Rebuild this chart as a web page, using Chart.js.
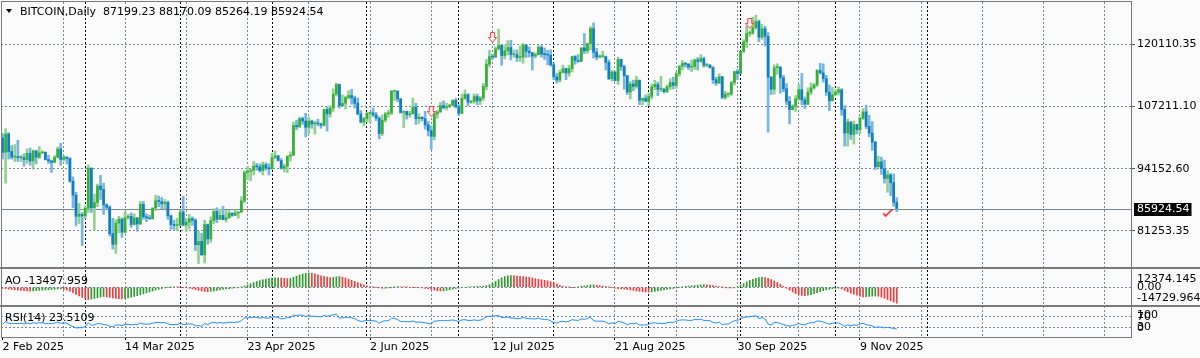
<!DOCTYPE html>
<html>
<head>
<meta charset="utf-8">
<script src="https://cdn.jsdelivr.net/npm/chart.js@4.4.1/dist/chart.umd.min.js"></script>
<style>
  html, body { margin: 0; padding: 0; background: #fff; }
  #wrap { width: 1200px; height: 358px; }
</style>
</head>
<body>
<div id="wrap"><canvas id="chart" width="1200" height="358"></canvas></div>
<script>
// daily candles from 2 Feb 2025, prices in thousands
const SYMBOL = "BITCOIN";
const PERIOD = "Daily";
const FIRST_DAY = Date.UTC(2025, 1, 2);
const SLOTS = 369;

const openK = [
  100.6, 97.6, 101.4, 97.8, 96.6, 96.6, 96.5, 96.5, 96.1, 97.4,
  95.8, 97.9, 96.6, 97.5, 97.6, 96.1, 95.8, 95.5, 96.6, 98.3,
  96.1, 96.6, 96.3, 91.6, 88.7, 84.3, 84.7, 84.4, 86.0, 94.3,
  86.1, 87.2, 90.6, 89.9, 86.7, 86.2, 80.7, 78.5, 82.9, 83.7,
  81.0, 84.0, 84.3, 82.6, 84.0, 82.7, 86.8, 84.2, 84.0, 83.8,
  86.0, 87.5, 87.4, 86.9, 87.2, 84.4, 82.6, 82.4, 82.5, 85.2,
  82.5, 83.1, 83.8, 83.5, 78.4, 79.1, 76.3, 82.6, 79.6, 83.4,
  85.3, 83.7, 84.5, 83.6, 84.0, 84.9, 84.5, 85.0, 85.2, 87.5,
  93.4, 93.7, 93.9, 94.7, 94.6, 93.8, 95.0, 94.3, 94.2, 96.5,
  96.9, 95.9, 94.3, 94.7, 96.8, 97.0, 103.2, 102.9, 104.6, 104.1,
  102.8, 104.1, 103.5, 103.7, 103.5, 103.2, 106.5, 105.6, 106.8, 109.7,
  111.7, 107.3, 107.8, 109.0, 109.4, 108.9, 107.8, 105.6, 103.9, 104.6,
  105.7, 105.8, 105.4, 104.7, 101.5, 104.3, 105.6, 105.8, 110.3, 110.3,
  108.7, 105.9, 106.1, 105.4, 105.6, 107.0, 104.6, 104.9, 104.6, 103.3,
  102.1, 100.9, 105.6, 106.0, 107.3, 106.9, 107.1, 107.4, 108.4, 107.1,
  105.7, 108.8, 109.6, 108.0, 108.2, 109.2, 108.3, 108.9, 111.3, 115.9,
  117.5, 117.4, 119.1, 119.8, 117.7, 118.7, 119.4, 117.9, 117.9, 117.3,
  117.4, 119.9, 118.6, 118.3, 117.6, 117.9, 119.4, 118.0, 117.9, 117.8,
  115.8, 113.3, 112.6, 114.2, 115.0, 114.1, 115.0, 117.5, 116.7, 116.5,
  119.3, 118.7, 120.2, 123.3, 118.4, 117.4, 117.5, 117.5, 116.3, 112.9,
  114.3, 112.5, 116.9, 115.4, 113.5, 110.1, 111.8, 111.3, 112.6, 108.4,
  108.8, 108.2, 109.2, 111.2, 111.7, 110.7, 110.7, 110.2, 111.2, 112.1,
  111.5, 113.9, 115.5, 116.1, 115.9, 115.3, 115.4, 116.8, 116.5, 117.1,
  115.7, 115.7, 115.2, 112.7, 112.0, 113.3, 109.0, 109.7, 109.7, 112.1,
  114.4, 114.0, 118.6, 120.6, 122.3, 122.4, 123.5, 124.8, 121.5, 123.3,
  121.7, 113.2, 110.7, 115.2, 115.3, 113.1, 110.8, 108.2, 106.5, 107.2,
  108.7, 110.6, 108.5, 107.6, 110.1, 111.0, 111.6, 114.6, 114.1, 112.9,
  110.1, 108.3, 109.6, 110.1, 110.6, 106.5, 101.6, 103.9, 101.3, 103.4,
  102.3, 104.7, 106.0, 103.0, 101.6, 99.7, 94.6, 95.6, 94.2, 92.2,
  92.9, 91.3, 87.19923
];

const highK = [
  101.5, 102.5, 101.7, 99.0, 99.2, 100.1, 96.9, 97.3, 98.3, 98.5,
  98.1, 98.0, 98.8, 97.9, 97.7, 97.0, 96.0, 96.9, 98.7, 99.5,
  96.9, 96.7, 96.5, 92.5, 89.3, 87.0, 85.1, 86.5, 95.0, 94.4,
  88.9, 91.0, 92.8, 91.2, 86.9, 86.5, 83.9, 83.6, 84.3, 84.0,
  85.2, 84.7, 85.0, 84.8, 84.0, 87.4, 87.4, 84.8, 84.5, 86.1,
  88.7, 88.5, 88.2, 87.8, 87.5, 84.6, 83.5, 83.9, 85.5, 88.5,
  83.9, 84.7, 84.2, 83.8, 81.2, 80.8, 83.5, 82.7, 84.2, 85.9,
  86.1, 85.8, 86.4, 85.5, 85.5, 85.1, 85.6, 85.3, 88.4, 93.8,
  94.7, 94.0, 95.7, 95.3, 95.2, 95.6, 95.4, 95.2, 97.4, 97.9,
  96.9, 96.3, 95.2, 96.9, 97.7, 103.9, 104.3, 104.9, 104.9, 105.7,
  104.9, 104.3, 104.1, 104.5, 103.7, 106.6, 107.1, 107.3, 110.8, 112.0,
  111.8, 109.5, 109.3, 110.4, 110.7, 109.3, 108.9, 106.3, 104.9, 105.9,
  105.9, 106.8, 105.9, 105.0, 105.4, 105.9, 106.4, 110.5, 110.4, 110.4,
  108.8, 106.2, 106.2, 106.1, 108.9, 107.8, 105.6, 105.0, 106.1, 104.0,
  103.1, 106.1, 106.3, 108.0, 108.3, 107.8, 107.6, 108.5, 108.8, 107.5,
  109.7, 110.6, 109.8, 108.4, 109.7, 109.7, 109.2, 111.9, 116.9, 118.8,
  118.0, 119.5, 123.2, 119.9, 119.8, 120.8, 120.9, 118.9, 118.9, 119.7,
  120.2, 120.0, 119.5, 118.4, 118.3, 119.8, 119.8, 119.3, 118.8, 118.9,
  116.1, 114.0, 114.7, 115.7, 115.1, 115.7, 117.6, 117.7, 117.9, 119.3,
  122.3, 120.3, 123.7, 124.5, 119.2, 117.9, 118.6, 117.6, 116.8, 114.6,
  114.4, 117.4, 117.0, 115.7, 113.6, 112.3, 112.6, 113.4, 112.6, 108.9,
  109.5, 109.9, 111.8, 112.6, 112.2, 113.4, 110.9, 111.6, 112.9, 113.2,
  114.3, 115.6, 116.7, 116.3, 116.1, 116.8, 117.0, 117.3, 117.9, 117.4,
  116.1, 115.9, 115.4, 113.2, 113.9, 113.4, 110.3, 109.9, 112.3, 114.4,
  114.8, 118.6, 121.0, 123.9, 122.9, 125.7, 126.1, 125.1, 124.2, 123.8,
  122.5, 113.4, 115.8, 116.0, 115.4, 113.6, 111.9, 109.2, 107.5, 109.4,
  111.7, 114.0, 109.1, 111.0, 112.0, 111.9, 114.8, 116.1, 116.0, 113.6,
  111.6, 111.1, 110.6, 111.2, 110.8, 107.3, 104.5, 104.0, 104.1, 103.4,
  105.0, 106.7, 107.4, 105.3, 104.0, 99.9, 96.8, 96.6, 96.0, 93.8,
  93.2, 93.1, 88.17009
];

const lowK = [
  96.2, 91.2, 96.2, 96.2, 95.7, 95.7, 95.7, 94.7, 95.3, 94.9,
  94.1, 95.2, 96.3, 97.3, 96.0, 95.3, 93.4, 95.5, 96.4, 94.9,
  95.8, 95.2, 91.4, 86.1, 82.3, 82.8, 78.2, 83.8, 85.1, 85.1,
  81.4, 86.3, 87.8, 84.7, 85.7, 80.2, 77.5, 76.6, 80.9, 79.9,
  80.8, 83.7, 82.0, 82.5, 81.2, 82.6, 83.7, 83.2, 83.7, 83.7,
  85.5, 86.3, 85.9, 85.9, 83.7, 81.6, 81.6, 81.3, 82.4, 82.3,
  81.2, 81.7, 82.4, 77.2, 74.5, 76.2, 74.6, 78.5, 78.9, 82.8,
  83.0, 83.7, 83.6, 83.1, 83.9, 84.3, 84.5, 83.9, 85.1, 87.1,
  91.9, 91.7, 92.9, 93.9, 93.5, 92.9, 93.9, 92.9, 94.1, 96.3,
  95.8, 94.1, 93.5, 93.4, 95.8, 96.9, 102.3, 102.8, 103.4, 100.8,
  101.5, 102.6, 101.4, 103.1, 102.6, 103.1, 102.0, 104.9, 106.1, 109.3,
  106.8, 107.2, 106.6, 108.7, 107.6, 106.8, 105.4, 103.7, 103.1, 103.9,
  103.8, 105.0, 104.2, 100.4, 101.1, 103.9, 104.9, 105.4, 108.4, 108.1,
  105.7, 102.7, 104.5, 104.9, 105.6, 103.4, 103.6, 104.1, 102.4, 101.0,
  98.2, 100.2, 104.7, 105.9, 106.6, 106.4, 106.9, 107.2, 106.8, 105.3,
  105.6, 108.6, 107.3, 107.8, 107.8, 107.5, 107.5, 108.4, 110.6, 115.3,
  116.9, 117.3, 118.9, 115.7, 117.0, 117.8, 116.8, 117.3, 116.5, 116.5,
  116.1, 117.3, 117.4, 114.7, 117.2, 117.8, 117.4, 116.9, 115.8, 115.5,
  112.7, 112.0, 112.2, 114.1, 112.7, 113.4, 114.3, 115.9, 116.3, 116.5,
  118.1, 118.2, 118.9, 117.2, 116.8, 117.2, 117.3, 114.7, 112.7, 112.4,
  112.4, 111.7, 114.6, 110.7, 109.6, 108.7, 110.4, 110.9, 107.5, 107.5,
  108.1, 107.3, 108.7, 110.6, 109.4, 110.2, 109.9, 110.0, 110.6, 110.8,
  110.9, 113.4, 114.7, 115.3, 114.8, 114.4, 114.8, 114.7, 116.3, 115.3,
  115.4, 115.1, 111.9, 111.5, 111.9, 108.7, 108.6, 109.1, 109.4, 111.6,
  112.7, 113.9, 118.3, 119.4, 121.7, 122.1, 123.2, 120.6, 121.1, 119.7,
  101.8, 109.6, 109.7, 113.8, 109.9, 110.2, 107.5, 103.5, 106.4, 106.1,
  108.4, 107.5, 106.7, 107.5, 109.6, 110.7, 111.3, 113.9, 112.2, 109.4,
  106.3, 108.3, 109.4, 109.5, 105.3, 98.9, 98.9, 100.3, 99.3, 101.4,
  101.5, 104.4, 102.5, 100.8, 98.0, 94.0, 94.5, 93.0, 91.2, 89.3,
  88.6, 86.4, 85.26419
];

const closeK = [
  97.6, 101.4, 97.8, 96.6, 96.6, 96.5, 96.5, 96.1, 97.4, 95.8,
  97.9, 96.6, 97.5, 97.6, 96.1, 95.8, 95.5, 96.6, 98.3, 96.1,
  96.6, 96.3, 91.6, 88.7, 84.3, 84.7, 84.4, 86.0, 94.3, 86.1,
  87.2, 90.6, 89.9, 86.7, 86.2, 80.7, 78.5, 82.9, 83.7, 81.0,
  84.0, 84.3, 82.6, 84.0, 82.7, 86.8, 84.2, 84.0, 83.8, 86.0,
  87.5, 87.4, 86.9, 87.2, 84.4, 82.6, 82.4, 82.5, 85.2, 82.5,
  83.1, 83.8, 83.5, 78.4, 79.1, 76.3, 82.6, 79.6, 83.4, 85.3,
  83.7, 84.5, 83.6, 84.0, 84.9, 84.5, 85.0, 85.2, 87.5, 93.4,
  93.7, 93.9, 94.7, 94.6, 93.8, 95.0, 94.3, 94.2, 96.5, 96.9,
  95.9, 94.3, 94.7, 96.8, 97.0, 103.2, 102.9, 104.6, 104.1, 102.8,
  104.1, 103.5, 103.7, 103.5, 103.2, 106.5, 105.6, 106.8, 109.7, 111.7,
  107.3, 107.8, 109.0, 109.4, 108.9, 107.8, 105.6, 103.9, 104.6, 105.7,
  105.8, 105.4, 104.7, 101.5, 104.3, 105.6, 105.8, 110.3, 110.3, 108.7,
  105.9, 106.1, 105.4, 105.6, 107.0, 104.6, 104.9, 104.6, 103.3, 102.1,
  100.9, 105.6, 106.0, 107.3, 106.9, 107.1, 107.4, 108.4, 107.1, 105.7,
  108.8, 109.6, 108.0, 108.2, 109.2, 108.3, 108.9, 111.3, 115.9, 117.5,
  117.4, 119.1, 119.8, 117.7, 118.7, 119.4, 117.9, 117.9, 117.3, 117.4,
  119.9, 118.6, 118.3, 117.6, 117.9, 119.4, 118.0, 117.9, 117.8, 115.8,
  113.3, 112.6, 114.2, 115.0, 114.1, 115.0, 117.5, 116.7, 116.5, 119.3,
  118.7, 120.2, 123.3, 118.4, 117.4, 117.5, 117.5, 116.3, 112.9, 114.3,
  112.5, 116.9, 115.4, 113.5, 110.1, 111.8, 111.3, 112.6, 108.4, 108.8,
  108.2, 109.2, 111.2, 111.7, 110.7, 110.7, 110.2, 111.2, 112.1, 111.5,
  113.9, 115.5, 116.1, 115.9, 115.3, 115.4, 116.8, 116.5, 117.1, 115.7,
  115.7, 115.2, 112.7, 112.0, 113.3, 109.0, 109.7, 109.7, 112.1, 114.4,
  114.0, 118.6, 120.6, 122.3, 122.4, 123.5, 124.8, 121.5, 123.3, 121.7,
  113.2, 110.7, 115.2, 115.3, 113.1, 110.8, 108.2, 106.5, 107.2, 108.7,
  110.6, 108.5, 107.6, 110.1, 111.0, 111.6, 114.6, 114.1, 112.9, 110.1,
  108.3, 109.6, 110.1, 110.6, 106.5, 101.6, 103.9, 101.3, 103.4, 102.3,
  104.7, 106.0, 103.0, 101.6, 99.7, 94.6, 95.6, 94.2, 92.2, 92.9,
  91.3, 87.19923, 85.92454
];

// Awesome Oscillator, thousands
const aoK = [
  -0.8, -1.1, -1.5, -1.8, -2.1, -2.4, -2.7, -2.9, -3.1, -3.2,
  -3.0, -2.8, -2.6, -2.4, -2.2, -2.0, -1.9, -1.7, -1.5, -1.4,
  -1.8, -2.4, -3.4, -4.6, -6.0, -7.4, -8.7, -9.8, -10.4, -10.0,
  -9.4, -8.8, -8.2, -7.8, -8.1, -8.6, -9.1, -9.5, -9.7, -9.8,
  -9.5, -9.0, -8.4, -7.8, -7.1, -6.4, -5.6, -4.8, -4.0, -3.2,
  -2.4, -1.7, -1.1, -0.6, -0.2, 0.2, 0.5, 0.3, 0.1, -0.2,
  -0.5, -0.9, -1.4, -2.0, -2.6, -3.1, -3.5, -3.7, -3.4, -3.0,
  -2.6, -2.2, -1.8, -1.4, -1.1, -0.8, -0.5, -0.2, 0.3, 1.1,
  2.0, 3.0, 4.0, 4.9, 5.7, 6.4, 7.0, 7.4, 7.8, 8.0,
  8.1, 7.9, 7.6, 7.4, 7.5, 8.5, 9.5, 10.5, 11.3, 11.8,
  12.2, 12.0, 11.4, 10.6, 9.8, 9.3, 8.7, 8.2, 8.5, 8.9,
  9.1, 8.6, 7.9, 7.0, 6.0, 5.0, 4.0, 3.0, 2.0, 1.2,
  0.5, 0.2, -0.2, -0.5, -0.9, -0.8, -0.5, -0.2, 0.3, 0.6,
  0.5, 0.3, 0.1, 0.0, -0.1, -0.2, -0.4, -0.6, -0.9, -1.3,
  -1.8, -2.4, -2.9, -3.1, -3.0, -2.6, -2.1, -1.6, -1.1, -0.7,
  -0.4, 0.0, 0.3, 0.5, 0.6, 0.7, 0.8, 1.0, 1.4, 2.2,
  3.5, 5.0, 6.6, 8.0, 9.1, 9.8, 10.0, 9.9, 9.6, 9.4,
  9.1, 8.8, 8.4, 7.9, 7.3, 6.8, 6.4, 6.0, 5.5, 4.8,
  3.8, 2.7, 1.7, 0.9, 0.4, 0.1, -0.1, 0.0, 0.4, 0.9,
  1.2, 1.5, 1.9, 2.0, 1.8, 1.5, 1.1, 0.7, 0.2, -0.3,
  -0.8, -1.2, -1.3, -1.5, -1.9, -2.3, -2.6, -3.0, -3.4, -3.8,
  -4.0, -4.1, -3.9, -3.5, -3.1, -2.6, -2.2, -1.8, -1.4, -1.0,
  -0.5, 0.0, 0.4, 0.8, 1.1, 1.3, 1.5, 1.8, 2.0, 2.2,
  2.1, 1.9, 1.5, 1.0, 0.6, 0.1, -0.3, -0.5, -0.6, -0.2,
  0.6, 1.8, 3.2, 4.6, 5.8, 6.8, 7.6, 8.2, 8.4, 8.3,
  7.6, 6.6, 5.4, 4.0, 2.6, 1.0, -0.8, -2.5, -4.0, -5.3,
  -6.3, -6.9, -7.1, -6.8, -6.2, -5.5, -4.6, -3.7, -2.9, -2.2,
  -1.7, -1.2, -0.9, -0.7, -1.4, -2.6, -3.8, -4.9, -5.9, -6.8,
  -7.6, -8.2, -8.0, -7.7, -7.5, -7.4, -7.6, -8.4, -9.3, -10.3,
  -11.4, -12.5, -13.497959
];

const rsi14 = [
  42, 52, 45, 44, 44, 44, 44, 43, 46, 43,
  47, 45, 47, 47, 44, 44, 43, 46, 50, 45,
  46, 46, 37, 33, 27, 28, 28, 32, 47, 37,
  39, 44, 43, 40, 39, 34, 32, 38, 39, 36,
  41, 41, 39, 41, 40, 46, 42, 42, 42, 45,
  48, 48, 47, 48, 43, 40, 40, 40, 45, 40,
  41, 43, 42, 35, 36, 33, 44, 40, 46, 49,
  46, 48, 46, 47, 49, 48, 49, 50, 55, 66,
  66, 67, 68, 68, 65, 67, 65, 65, 69, 70,
  67, 62, 63, 67, 67, 76, 75, 77, 76, 71,
  74, 72, 72, 71, 70, 75, 72, 74, 78, 80,
  65, 66, 68, 68, 66, 63, 56, 52, 54, 56,
  56, 55, 53, 45, 52, 55, 55, 64, 64, 59,
  52, 52, 51, 51, 54, 49, 50, 49, 47, 45,
  42, 53, 54, 56, 55, 56, 56, 58, 55, 52,
  58, 59, 56, 56, 58, 56, 57, 62, 70, 72,
  72, 74, 75, 67, 68, 69, 65, 65, 63, 63,
  68, 64, 63, 62, 62, 65, 61, 60, 60, 54,
  48, 46, 51, 53, 50, 53, 59, 57, 56, 62,
  60, 63, 69, 55, 53, 53, 53, 50, 43, 47,
  43, 53, 50, 46, 40, 44, 43, 46, 38, 39,
  38, 41, 46, 47, 45, 45, 44, 47, 49, 48,
  53, 57, 58, 58, 56, 56, 60, 59, 61, 56,
  56, 55, 48, 46, 50, 40, 42, 42, 49, 55,
  54, 64, 67, 70, 70, 72, 74, 63, 67, 62,
  42, 38, 48, 48, 44, 40, 36, 34, 36, 40,
  44, 40, 39, 45, 47, 48, 54, 53, 50, 45,
  42, 45, 46, 47, 40, 33, 39, 35, 39, 37,
  42, 45, 40, 38, 35, 29, 31, 30, 28, 29,
  28, 24.5, 23.5109
];

// chart objects: sell arrows and the check mark
const arrowIdx = [140, 160, 244];
const arrowPriceK = [105.98, 121.36, 124.27];
const checkIdx = [289];
const checkPriceK = [85.0];

// axis labels
const priceTicks = [120110.35, 107211.10, 94152.60, 81253.35];
const aoTicks = [12374.145, 0, -14729.964];
const rsiTicks = [100, 70, 30, 0];

const MONTHS = ["Jan", "Feb", "Mar", "Apr", "May", "Jun", "Jul", "Aug", "Sep", "Oct", "Nov", "Dec"];
const MS_DAY = 1000 * 60 * 60 * 24;
const FONT = '11px "DejaVu Sans"';
const GRID = "#778899";
const FRAME = "#7a7a7a";
const UP = "#35b035";
const UP_WICK = "#93d193";
const DOWN = "#0e7fc4";
const DOWN_WICK = "#78b6df";
const AO_UP = "#2f9a2f";
const AO_DOWN = "#f03c3c";

Chart.defaults.font.family = "DejaVu Sans";
Chart.defaults.font.size = 11;
Chart.defaults.color = "#000";

const dateLabels = [];
const isMonthStart = [];
for (let i = 0; i < SLOTS; i++) {
  const d = new Date(FIRST_DAY + i * MS_DAY);
  dateLabels.push(`${d.getUTCDate()} ${MONTHS[d.getUTCMonth()]} ${d.getUTCFullYear()}`);
  isMonthStart.push(d.getUTCDate() === 1);
}
const lastBar = closeK.length - 1;
const lastSeparator = closeK.length + 30;
const toPrice = (k) => Math.round(k * 100000) / 100;
const lastClose = toPrice(closeK[lastBar]);

function makeArrow() {
  const c = document.createElement("canvas");
  c.width = 9;
  c.height = 12;
  const g = c.getContext("2d");
  g.beginPath();
  g.moveTo(2.5, 0.5);
  g.lineTo(6.5, 0.5);
  g.lineTo(6.5, 5.5);
  g.lineTo(8.5, 5.5);
  g.lineTo(4.5, 10.5);
  g.lineTo(0.5, 5.5);
  g.lineTo(2.5, 5.5);
  g.closePath();
  g.fillStyle = "#fff4f4";
  g.fill();
  g.strokeStyle = "#ff3b3b";
  g.lineWidth = 1;
  g.stroke();
  return c;
}

function makeCheck() {
  const c = document.createElement("canvas");
  c.width = 10;
  c.height = 8;
  const g = c.getContext("2d");
  g.beginPath();
  g.moveTo(0.5, 4);
  g.lineTo(3, 7);
  g.lineTo(9.5, 0.5);
  g.strokeStyle = "#ff2020";
  g.lineWidth = 1.6;
  g.stroke();
  return c;
}

const candleColor = (ctx, up, down) => closeK[ctx.dataIndex] >= openK[ctx.dataIndex] ? up : down;

const panels = {
  id: "panels",
  beforeDraw(chart) {
    const { ctx } = chart;
    ctx.save();
    ctx.fillStyle = "#fafafa";
    ctx.fillRect(0, 0, chart.width, chart.height);
    ctx.restore();
  },
  beforeDatasetsDraw(chart) {
    const { ctx, chartArea, scales } = chart;
    const y = Math.round(scales.y.getPixelForValue(lastClose)) + 0.5;
    ctx.save();
    ctx.strokeStyle = GRID;
    ctx.lineWidth = 1;
    ctx.beginPath();
    ctx.moveTo(chartArea.left, y);
    ctx.lineTo(chartArea.right, y);
    ctx.stroke();
    ctx.restore();
  },
  afterDraw(chart) {
    const { ctx, chartArea, scales } = chart;
    ctx.save();
    ctx.fillStyle = FRAME;
    [scales.yAO.top, scales.yRSI.top].forEach((t) => {
      ctx.fillRect(0, Math.round(t) - 1, chart.width, 2);
    });
    ctx.strokeStyle = FRAME;
    ctx.lineWidth = 1;
    ctx.strokeRect(1.5, 1.5, Math.round(chartArea.right) - 1, Math.round(chartArea.bottom) - 1);

    // bid label
    ctx.font = FONT;
    ctx.textBaseline = "middle";
    ctx.textAlign = "left";
    const py = scales.y.getPixelForValue(lastClose);
    const txt = lastClose.toFixed(2);
    const w = ctx.measureText(txt).width;
    ctx.fillStyle = "#000";
    ctx.fillRect(chartArea.right + 3, Math.round(py) - 6, w + 5, 13);
    ctx.fillStyle = "#fff";
    ctx.fillText(txt, chartArea.right + 6, py + 0.5);

    // window captions
    ctx.fillStyle = "#000";
    ctx.beginPath();
    ctx.moveTo(6, 9);
    ctx.lineTo(12, 9);
    ctx.lineTo(9, 13);
    ctx.closePath();
    ctx.fill();
    const ohlc = [openK[lastBar], highK[lastBar], lowK[lastBar], closeK[lastBar]]
      .map((v) => toPrice(v).toFixed(2)).join(" ");
    ctx.fillText(`${SYMBOL},${PERIOD}  ${ohlc}`, 20, 12);
    ctx.fillText(`AO ${(aoK[lastBar] * 1000).toFixed(3)}`, 5, scales.yAO.top + 13);
    ctx.fillText(`RSI(14) ${rsi14[lastBar].toFixed(4)}`, 5, scales.yRSI.top + 12);
    ctx.restore();
  }
};

// fixed axis sizes, and no label overhang padding so the panels keep their place
const fixWidth = (s) => {
  s.width = 69;
  s.paddingTop = 0;
  s.paddingBottom = 0;
};

new Chart(document.getElementById("chart"), {
  type: "bar",
  data: {
    labels: dateLabels,
    datasets: [
      {
        label: "wick",
        data: lowK.map((l, i) => [toPrice(l), toPrice(highK[i])]),
        yAxisID: "y",
        grouped: false,
        barThickness: 2,
        backgroundColor: (ctx) => candleColor(ctx, UP_WICK, DOWN_WICK),
        order: 3
      },
      {
        label: "body",
        data: openK.map((o, i) => [toPrice(o), toPrice(closeK[i])]),
        yAxisID: "y",
        grouped: false,
        barThickness: 2,
        minBarLength: 1,
        backgroundColor: (ctx) => candleColor(ctx, UP, DOWN),
        order: 2
      },
      {
        label: "AO",
        data: aoK.map((v) => v * 1000),
        yAxisID: "yAO",
        grouped: false,
        barThickness: 1,
        backgroundColor: (ctx) => {
          const i = ctx.dataIndex;
          return i > 0 && aoK[i] > aoK[i - 1] ? AO_UP : AO_DOWN;
        },
        order: 4
      },
      {
        type: "line",
        label: "RSI(14)",
        data: rsi14,
        yAxisID: "yRSI",
        borderColor: "#1e90ff",
        borderWidth: 1,
        pointRadius: 0,
        tension: 0,
        order: 1
      },
      {
        type: "line",
        label: "arrows",
        data: arrowIdx.map((idx, k) => ({ x: dateLabels[idx], y: toPrice(arrowPriceK[k]) })),
        yAxisID: "y",
        showLine: false,
        pointStyle: makeArrow(),
        pointRadius: 5,
        order: 0
      },
      {
        type: "line",
        label: "check",
        data: checkIdx.map((idx, k) => ({ x: dateLabels[idx], y: toPrice(checkPriceK[k]) })),
        yAxisID: "y",
        showLine: false,
        pointStyle: makeCheck(),
        pointRadius: 5,
        order: 0
      }
    ]
  },
  options: {
    responsive: false,
    animation: false,
    events: [],
    layout: { autoPadding: false, padding: { top: 2, left: 1, right: 0, bottom: 0 } },
    plugins: { legend: { display: false }, tooltip: { enabled: false } },
    scales: {
      x: {
        type: "category",
        offset: true,
        afterFit: (s) => {
          s.height = 21;
          s.paddingLeft = 0;
          s.paddingRight = 0;
        },
        border: { display: false, dash: [2, 2] },
        grid: {
          offset: false,
          tickLength: 3,
          color: (ctx) => {
            const i = ctx.index;
            if (isMonthStart[i] && i <= lastSeparator) return "#000";
            if (i > 0 && i % 20 === 0) return GRID;
            return "transparent";
          },
          tickColor: (ctx) => (ctx.index % 40 === 0 && ctx.index <= lastBar ? "#000" : "transparent")
        },
        ticks: {
          autoSkip: false,
          maxRotation: 0,
          minRotation: 0,
          align: "start",
          padding: 1,
          callback: (v, i) => (i % 40 === 0 && i <= lastBar ? dateLabels[i] : "")
        }
      },
      y: {
        type: "linear",
        position: "right",
        stack: "panels",
        stackWeight: 266,
        min: 73565,
        max: 128838,
        afterFit: fixWidth,
        afterBuildTicks: (s) => { s.ticks = priceTicks.map((v) => ({ value: v })); },
        border: { display: false, dash: [2, 2] },
        grid: { color: GRID, tickLength: 4, tickColor: "#555" },
        ticks: { autoSkip: false, padding: 2, callback: (v) => v.toFixed(2) }
      },
      yAO: {
        type: "linear",
        position: "right",
        stack: "panels",
        stackWeight: 38,
        min: -15900,
        max: 16400,
        afterFit: fixWidth,
        afterBuildTicks: (s) => { s.ticks = aoTicks.map((v) => ({ value: v })); },
        border: { display: false, dash: [2, 2] },
        grid: {
          drawTicks: false,
          color: (ctx) => (ctx.tick && ctx.tick.value === 0 ? GRID : "transparent")
        },
        ticks: {
          autoSkip: false,
          padding: 6,
          callback: (v) => {
            if (v === 0) return "0.00";
            return v > 0 ? ["", v.toFixed(3)] : [v.toFixed(3), ""];
          }
        }
      },
      yRSI: {
        type: "linear",
        position: "right",
        stack: "panels",
        stackWeight: 31,
        min: -7.7,
        max: 111.5,
        afterFit: fixWidth,
        afterBuildTicks: (s) => { s.ticks = rsiTicks.map((v) => ({ value: v })); },
        border: { display: false, dash: [2, 2] },
        grid: {
          drawTicks: false,
          color: (ctx) => (ctx.tick && (ctx.tick.value === 70 || ctx.tick.value === 30) ? GRID : "transparent")
        },
        ticks: {
          autoSkip: false,
          padding: 6,
          callback: (v) => {
            if (v === 100) return ["", "100"];
            if (v === 0) return ["0", ""];
            return String(v);
          }
        }
      }
    }
  },
  plugins: [panels]
});
</script>
</body>
</html>
